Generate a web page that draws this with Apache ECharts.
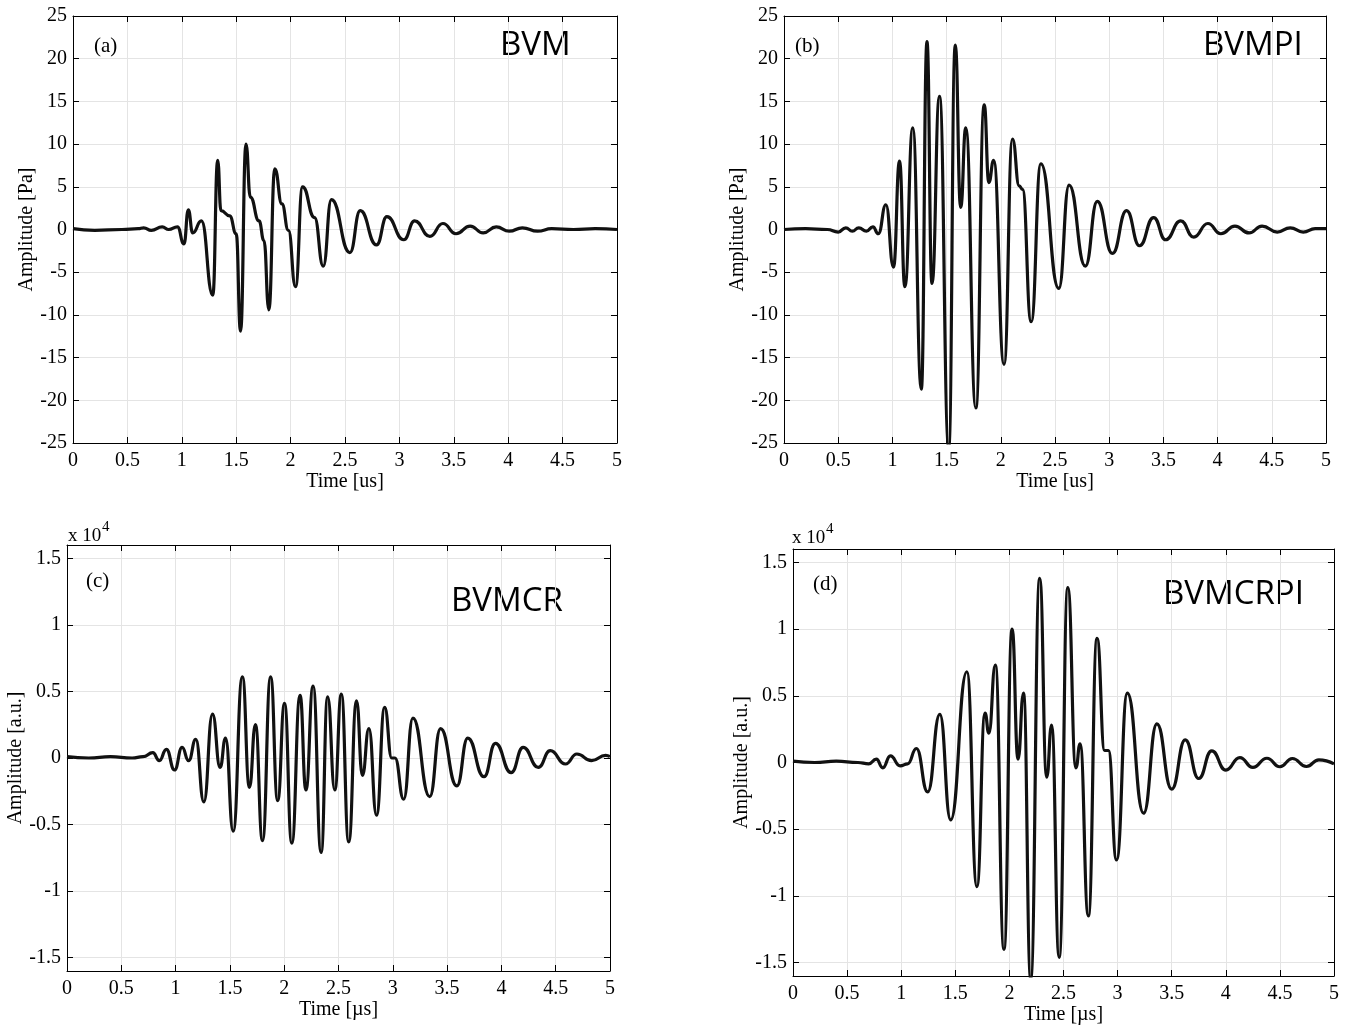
<!DOCTYPE html>
<html>
<head>
<meta charset="utf-8">
<script src="https://cdn.jsdelivr.net/npm/echarts@6/dist/echarts.min.js"></script>
<style>html,body{margin:0;padding:0;background:#fff}#chart{width:1355px;height:1028px}</style>
</head>
<body>
<div id="chart"></div>
<script>
// ---------- DATA ----------
// x ticks (us)
const timeTicks = [0, 0.5, 1, 1.5, 2, 2.5, 3, 3.5, 4, 4.5, 5];
// y ticks for panels c and d (units of 10^4)
const auTicks = [-1.5, -1, -0.5, 0, 0.5, 1, 1.5];

// (a) BVM, amplitude [Pa]
const aTime = [0, 0.2, 0.45, 0.6, 0.65, 0.72, 0.82, 0.88, 0.96, 1.02, 1.06, 1.10, 1.18, 1.285, 1.33, 1.36, 1.44, 1.50, 1.54, 1.59, 1.63, 1.71, 1.755, 1.80, 1.855, 1.92, 1.98, 2.045, 2.11, 2.22, 2.30, 2.375, 2.545, 2.64, 2.79, 2.885, 3.04, 3.14, 3.28, 3.40, 3.52, 3.65, 3.77, 3.89, 4.01, 4.13, 4.27, 4.4, 4.6, 4.8, 5.0];
const aAmp  = [0.1, -0.1, 0, 0.1, 0.2, -0.1, 0.3, 0, 0.3, -1.7, 2.3, -0.4, 1.0, -7.7, 8.1, 2.2, 1.6, -0.5, -11.9, 10.0, 3.8, 1.0, -1.3, -9.4, 7.1, 3.0, -0.1, -6.7, 5.0, 1.4, -4.3, 3.5, -2.7, 2.2, -1.8, 1.5, -1.2, 1.0, -0.8, 0.7, -0.5, 0.4, -0.4, 0.3, -0.2, 0.2, -0.2, 0.1, 0, 0.1, 0];

// (b) BVMPI, amplitude [Pa]
const bTime = [0, 0.2, 0.4, 0.5, 0.57, 0.63, 0.69, 0.76, 0.82, 0.87, 0.94, 1.01, 1.066, 1.115, 1.188, 1.267, 1.319, 1.365, 1.434, 1.52, 1.58, 1.63, 1.677, 1.77, 1.847, 1.89, 1.934, 2.03, 2.108, 2.17, 2.20, 2.28, 2.37, 2.535, 2.63, 2.78, 2.89, 3.03, 3.16, 3.28, 3.41, 3.52, 3.66, 3.78, 3.91, 4.03, 4.16, 4.29, 4.41, 4.55, 4.67, 4.79, 4.9, 5.0];
const bAmp  = [0, 0.1, 0, -0.3, 0.2, -0.2, 0.2, -0.2, 0.3, -0.5, 2.9, -4.4, 8.0, -6.7, 11.9, -18.7, 22.0, -6.3, 15.6, -25.5, 21.6, 2.6, 11.9, -20.9, 14.6, 5.5, 8.1, -15.8, 10.6, 5.1, 4.7, -10.8, 7.7, -6.9, 5.2, -4.3, 3.3, -2.8, 2.2, -1.9, 1.4, -1.2, 1.0, -0.9, 0.7, -0.5, 0.4, -0.4, 0.4, -0.3, 0.2, -0.3, 0.1, 0.1];

// (c) BVMCR, amplitude [a.u.] in units of 10^4
const cTime = [0, 0.2, 0.4, 0.6, 0.7, 0.79, 0.85, 0.915, 0.99, 1.06, 1.12, 1.186, 1.26, 1.34, 1.41, 1.46, 1.53, 1.615, 1.68, 1.735, 1.80, 1.875, 1.94, 2.003, 2.07, 2.146, 2.20, 2.266, 2.34, 2.40, 2.466, 2.526, 2.594, 2.666, 2.72, 2.78, 2.85, 2.925, 2.99, 3.02, 3.10, 3.185, 3.34, 3.44, 3.59, 3.69, 3.84, 3.945, 4.09, 4.20, 4.34, 4.45, 4.59, 4.695, 4.83, 4.96, 5.0];
const cAmp  = [0.01, 0.0, 0.01, 0.0, 0.01, 0.04, -0.02, 0.065, -0.09, 0.08, -0.02, 0.14, -0.33, 0.33, -0.07, 0.15, -0.55, 0.61, -0.22, 0.25, -0.62, 0.61, -0.32, 0.41, -0.64, 0.47, -0.24, 0.54, -0.71, 0.46, -0.24, 0.48, -0.63, 0.43, -0.13, 0.22, -0.43, 0.38, 0.0, 0.0, -0.31, 0.30, -0.29, 0.22, -0.21, 0.15, -0.14, 0.11, -0.11, 0.08, -0.07, 0.055, -0.045, 0.03, -0.02, 0.02, 0.01];

// (d) BVMCRPI, amplitude [a.u.] in units of 10^4
const dTime = [0, 0.2, 0.4, 0.6, 0.7, 0.77, 0.83, 0.90, 0.99, 1.06, 1.14, 1.245, 1.357, 1.457, 1.607, 1.70, 1.775, 1.81, 1.87, 1.95, 2.025, 2.08, 2.13, 2.197, 2.28, 2.345, 2.39, 2.46, 2.54, 2.615, 2.653, 2.73, 2.81, 2.88, 2.915, 2.99, 3.09, 3.24, 3.363, 3.50, 3.625, 3.75, 3.87, 4.0, 4.13, 4.25, 4.38, 4.50, 4.615, 4.745, 4.86, 5.0];
const dAmp  = [0.01, 0.0, 0.01, 0.0, -0.01, 0.025, -0.04, 0.05, -0.025, -0.01, 0.105, -0.22, 0.36, -0.43, 0.68, -0.93, 0.37, 0.22, 0.73, -1.40, 1.00, 0.025, 0.52, -1.62, 1.38, -0.11, 0.28, -1.46, 1.31, -0.04, 0.14, -1.15, 0.93, 0.09, 0.09, -0.73, 0.52, -0.38, 0.29, -0.20, 0.17, -0.12, 0.087, -0.057, 0.037, -0.037, 0.032, -0.032, 0.03, -0.03, 0.02, -0.01];

const panelLetters = ['(a)', '(b)', '(c)', '(d)'];
const panelNames = ['BVM', 'BVMPI', 'BVMCR', 'BVMCRPI'];
const xNames = ['Time [us]', 'Time [us]', 'Time [\u00b5s]', 'Time [\u00b5s]'];
const yNames = ['Amplitude [Pa]', 'Amplitude [Pa]', 'Amplitude [a.u.]', 'Amplitude [a.u.]'];

// ---------- CHART ----------
const SERIF = 'Liberation Serif';
const panels = [
  { grid: {left: 73, right: 738, top: 16, bottom: 585}, t: aTime, v: aAmp, pa: true, yGap: 29, xGap: 28 },
  { grid: {left: 784, right: 29, top: 16, bottom: 585}, t: bTime, v: bAmp, pa: true, yGap: 29, xGap: 28 },
  { grid: {left: 67, right: 745, top: 545, bottom: 57}, t: cTime, v: cAmp, pa: false, yGap: 38, xGap: 29 },
  { grid: {left: 793, right: 21, top: 549, bottom: 52}, t: dTime, v: dAmp, pa: false, yGap: 40, xGap: 29 }
];

const grids = [], xAxes = [], yAxes = [], series = [];
const lineCol = '#000';
panels.forEach((p, i) => {
  grids.push(Object.assign({containLabel: false, show: false}, p.grid));
  const baseX = {
    type: 'value', gridIndex: i, min: 0, max: 5, interval: 0.5,
    axisLine: {show: true, onZero: false, lineStyle: {color: lineCol, width: 1}},
    axisTick: {show: true, inside: true, length: 6, lineStyle: {color: lineCol}},
  };
  xAxes.push(Object.assign({}, baseX, {
    position: 'bottom',
    axisLabel: {color: '#000', fontFamily: SERIF, fontSize: 20, margin: 8},
    splitLine: {show: true, lineStyle: {color: '#e4e4e4', width: 1}},
    name: xNames[i], nameLocation: 'middle', nameGap: p.xGap,
    nameTextStyle: {color: '#000', fontFamily: SERIF, fontSize: 20}
  }));
  xAxes.push(Object.assign({}, baseX, {
    position: 'top', axisLabel: {show: false}, splitLine: {show: false}
  }));
  let baseY;
  if (p.pa) {
    baseY = {
      type: 'value', gridIndex: i, min: -25, max: 25, interval: 5,
      axisLine: {show: true, onZero: false, lineStyle: {color: lineCol, width: 1}},
      axisTick: {show: true, inside: true, length: 6, lineStyle: {color: lineCol}}
    };
  } else {
    baseY = {
      type: 'value', gridIndex: i, min: -1.6, max: 1.6,
      axisLine: {show: true, onZero: false, lineStyle: {color: lineCol, width: 1}},
      axisTick: {show: true, inside: true, length: 6, lineStyle: {color: lineCol}, customValues: auTicks}
    };
  }
  const yLabel = {color: '#000', fontFamily: SERIF, fontSize: 20, margin: 6};
  if (!p.pa) yLabel.customValues = auTicks;
  yAxes.push(Object.assign({}, baseY, {
    position: 'left',
    axisLabel: yLabel,
    splitLine: {show: true, lineStyle: {color: '#e4e4e4', width: 1}},
    name: yNames[i], nameLocation: 'middle', nameGap: p.yGap,
    nameTextStyle: {color: '#000', fontFamily: SERIF, fontSize: 20}
  }));
  yAxes.push(Object.assign({}, baseY, {
    position: 'right', axisLabel: {show: false}, splitLine: {show: false}
  }));
  series.push({
    type: 'line', xAxisIndex: 2 * i, yAxisIndex: 2 * i,
    data: p.t.map((t, k) => [t, p.v[k]]),
    showSymbol: false, smooth: 0.5, smoothMonotone: 'x', clip: true,
    lineStyle: {color: '#111', width: 3.2}
  });
});

const letterPos = [[94, 46], [795, 46], [86, 581], [813, 584]];
const namePos = [[500, 46], [1203, 46], [451, 602], [1163, 595]];
const graphics = [];
for (let i = 0; i < 4; i++) {
  graphics.push({type: 'text', x: letterPos[i][0], y: letterPos[i][1],
    style: {text: panelLetters[i], font: '21px "Liberation Serif"', fill: '#000', verticalAlign: 'middle'}});
  graphics.push({type: 'text', x: namePos[i][0], y: namePos[i][1],
    style: {text: panelNames[i], font: '33px "Open Sans"', fill: '#000', verticalAlign: 'middle'}});
}
// "x 10^4" multiplier labels for panels c and d
[[68, 536], [792, 538]].forEach(pos => {
  graphics.push({type: 'text', x: pos[0], y: pos[1],
    style: {text: 'x 10', font: '19px "Liberation Serif"', fill: '#000', verticalAlign: 'middle'}});
  graphics.push({type: 'text', x: pos[0] + 34, y: pos[1] - 9,
    style: {text: '4', font: '15px "Liberation Serif"', fill: '#000', verticalAlign: 'middle'}});
});

const chart = echarts.init(document.getElementById('chart'), null, {renderer: 'canvas'});
chart.setOption({
  animation: false,
  backgroundColor: '#fff',
  grid: grids, xAxis: xAxes, yAxis: yAxes, series: series,
  graphic: graphics
});
</script>
</body>
</html>
